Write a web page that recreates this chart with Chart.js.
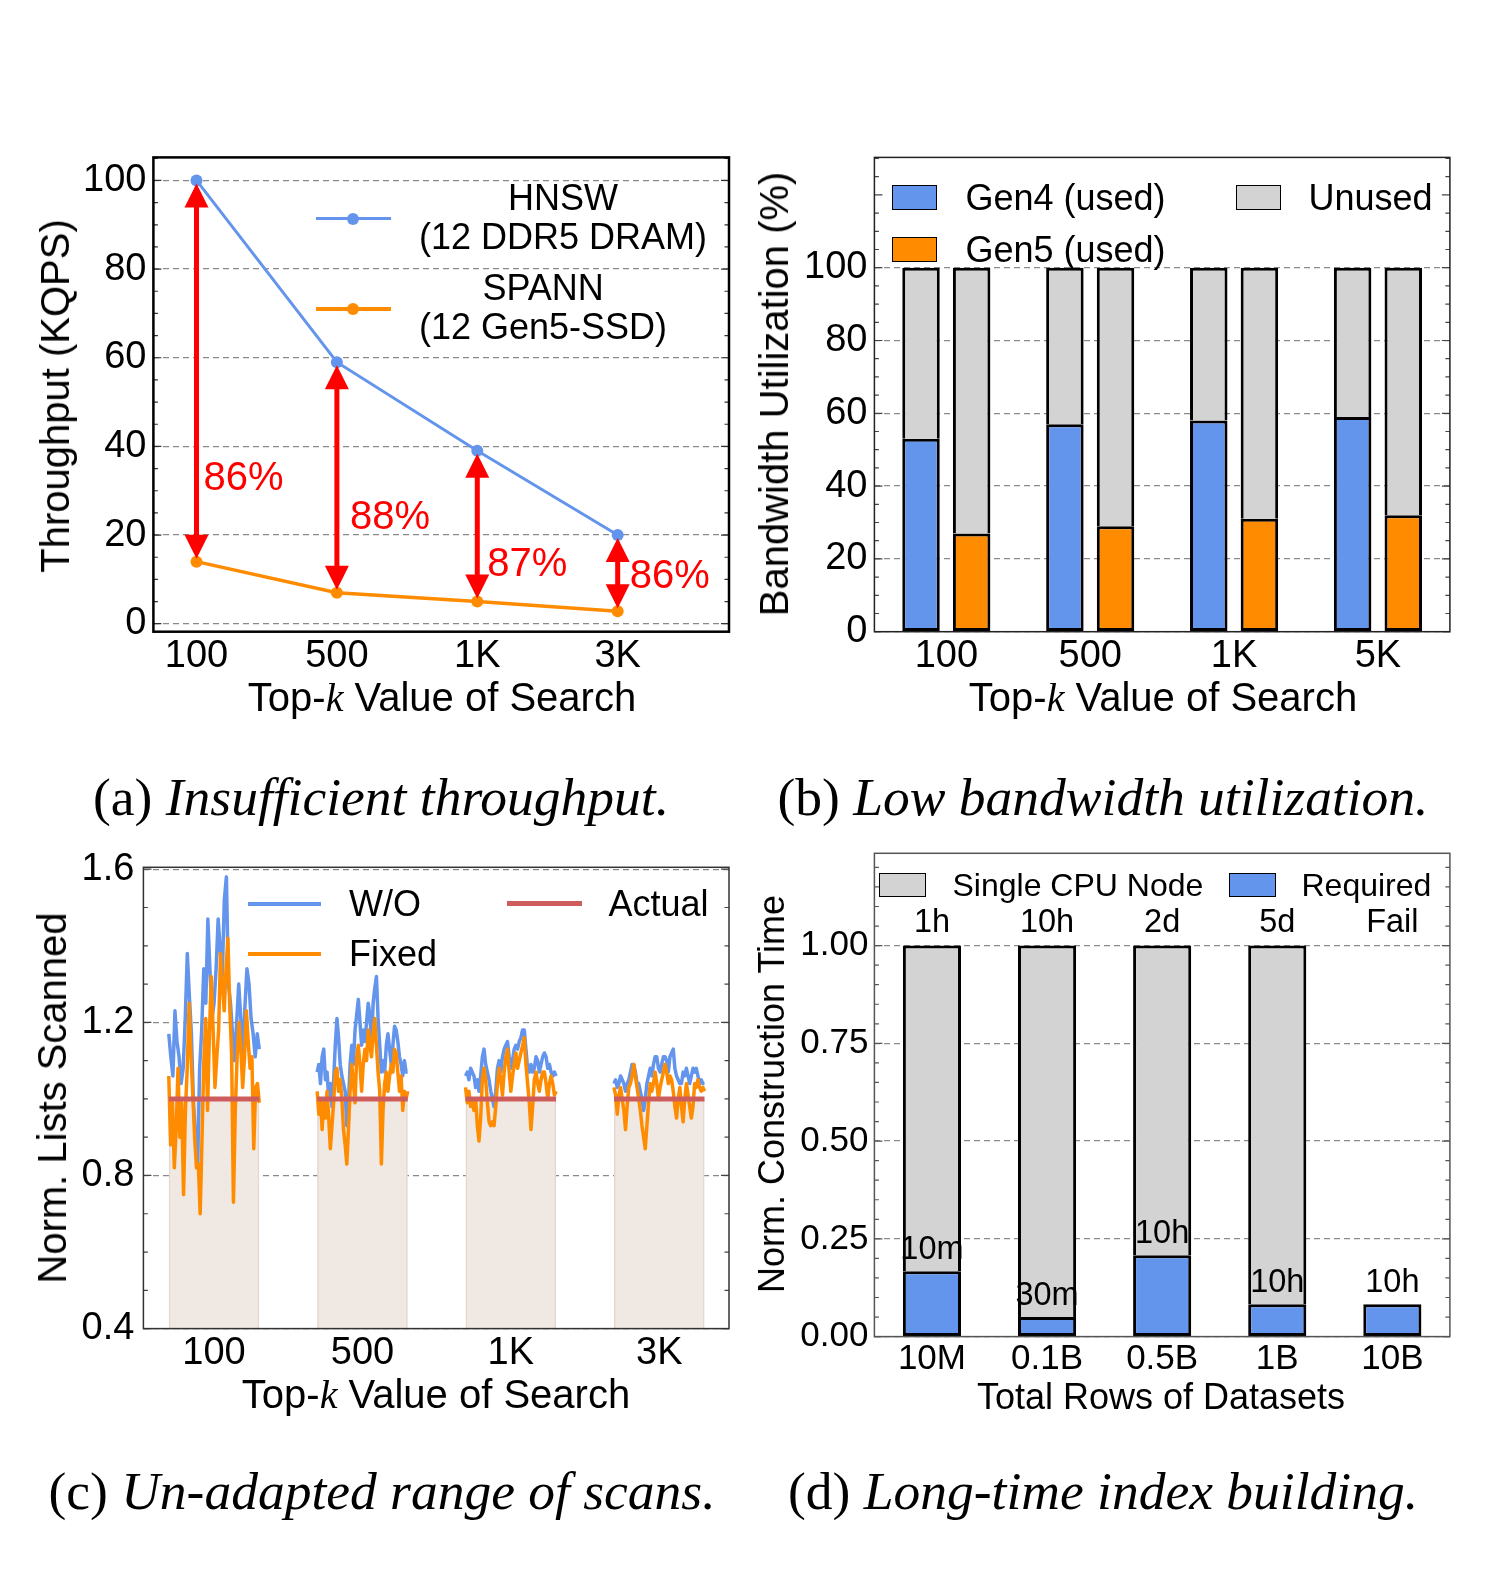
<!DOCTYPE html>
<html><head><meta charset="utf-8">
<script src="https://cdn.jsdelivr.net/npm/chart.js@4.4.1/dist/chart.umd.min.js"></script>
<style>
body{margin:0;background:#fff;width:1488px;height:1572px;position:relative;overflow:hidden;font-family:'Liberation Sans',Arial,sans-serif;color:#000;}
canvas{position:absolute;}
.t{position:absolute;white-space:nowrap;line-height:1;}
.c{transform:translate(-50%,-50%);}
.l{transform:translate(0,-50%);}
.r{transform:translate(-50%,-50%) rotate(-90deg);}
.mk{font-family:'Liberation Serif',serif;font-style:italic;}
.cap{font-family:'Liberation Serif','Times New Roman',serif;font-size:53.5px;}
.cap i{font-style:italic;}
.box{position:absolute;box-sizing:border-box;border:1.5px solid #000;}
.ln{position:absolute;}
</style></head><body>

<canvas id="ca" width="720" height="560" style="left:40px;top:140px"></canvas>
<canvas id="cb" width="720" height="560" style="left:760px;top:140px"></canvas>
<canvas id="cc" width="720" height="560" style="left:40px;top:850px"></canvas>
<canvas id="cd" width="720" height="560" style="left:760px;top:840px"></canvas>

<!-- (a) texts -->
<div class="t r" style="left:55px;top:396px;font-size:40px">Throughput (KQPS)</div>
<div class="t c" style="left:442px;top:697px;font-size:40px">Top-<span class="mk">k</span> Value of Search</div>
<div class="ln" style="left:316px;top:217px;width:75px;height:3px;background:#6495ED"></div>
<div class="ln" style="left:347px;top:212.5px;width:12px;height:12px;border-radius:50%;background:#6495ED"></div>
<div class="t" style="left:419px;top:177.5px;font-size:36px;line-height:39px;text-align:center">HNSW<br>(12 DDR5 DRAM)</div>
<div class="ln" style="left:316px;top:307px;width:75px;height:3.5px;background:#FF8C00"></div>
<div class="ln" style="left:347px;top:302.8px;width:12px;height:12px;border-radius:50%;background:#FF8C00"></div>
<div class="t" style="left:419px;top:267.5px;font-size:36px;line-height:39px;text-align:center">SPANN<br>(12 Gen5-SSD)</div>
<div class="t c cap" style="left:381px;top:798px">(a) <i>Insufficient throughput.</i></div>

<!-- (b) texts -->
<div class="t r" style="left:774px;top:394px;font-size:40px">Bandwidth Utilization (%)</div>
<div class="t c" style="left:1163px;top:697px;font-size:40px">Top-<span class="mk">k</span> Value of Search</div>
<div class="box" style="left:892px;top:184.5px;width:45px;height:25px;background:#6495ED"></div>
<div class="t l" style="left:965.5px;top:197.5px;font-size:36px">Gen4 (used)</div>
<div class="box" style="left:1236px;top:184.5px;width:45px;height:25px;background:#D3D3D3"></div>
<div class="t l" style="left:1308.5px;top:197.5px;font-size:36px">Unused</div>
<div class="box" style="left:892px;top:236.5px;width:45px;height:25px;background:#FF8C00"></div>
<div class="t l" style="left:965.5px;top:249.5px;font-size:36px">Gen5 (used)</div>
<div class="t c cap" style="left:1103px;top:798px">(b) <i>Low bandwidth utilization.</i></div>

<!-- (c) texts -->
<div class="t r" style="left:52px;top:1098px;font-size:40px">Norm. Lists Scanned</div>
<div class="t c" style="left:436px;top:1394px;font-size:40px">Top-<span class="mk">k</span> Value of Search</div>
<div class="ln" style="left:248px;top:901.5px;width:73px;height:4px;background:#6495ED"></div>
<div class="t l" style="left:349px;top:903.5px;font-size:36px">W/O</div>
<div class="ln" style="left:248px;top:951.5px;width:73px;height:4px;background:#FF8C00"></div>
<div class="t l" style="left:349px;top:953.5px;font-size:36px">Fixed</div>
<div class="ln" style="left:506.5px;top:901px;width:75px;height:5px;background:#CD5C5C"></div>
<div class="t l" style="left:608.5px;top:903.5px;font-size:36px">Actual</div>
<div class="t c cap" style="left:382px;top:1492px">(c) <i>Un-adapted range of scans.</i></div>

<!-- (d) texts -->
<div class="t r" style="left:772px;top:1094px;font-size:36px">Norm. Construction Time</div>
<div class="t c" style="left:1161px;top:1397px;font-size:36px">Total Rows of Datasets</div>
<div class="box" style="left:878.5px;top:873px;width:47px;height:24px;background:#D3D3D3"></div>
<div class="t l" style="left:952.5px;top:885px;font-size:32px">Single CPU Node</div>
<div class="box" style="left:1228.5px;top:873px;width:47px;height:24px;background:#6495ED"></div>
<div class="t l" style="left:1301.5px;top:885px;font-size:32px">Required</div>
<div class="t c cap" style="left:1103px;top:1492px">(d) <i>Long-time index building.</i></div>

<script>
// ---------------- data ----------------
// (a) throughput
const topKA = ['100', '500', '1K', '3K'];
const hnswKqps = [100, 59, 39, 20];
const spannKqps = [14, 7, 5, 2.8];
const gapLabels = ['86%', '88%', '87%', '86%'];
const yTicksA = [0, 20, 40, 60, 80, 100];
const yLabelsA = ['0', '20', '40', '60', '80', '100'];

// (b) bandwidth utilization
const topKB = ['100', '500', '1K', '5K'];
const gen4Used = [53, 57, 58, 59];
const gen5Used = [27, 29, 31, 32];
const yTicksB = [0, 20, 40, 60, 80, 100];
const yLabelsB = ['0', '20', '40', '60', '80', '100'];

// (c) norm. lists scanned
const topKC = ['100', '500', '1K', '3K'];
const actualScan = [1.0, 1.0, 1.0, 1.0];
const woScan100 = [1.17,1.11,1.06,1.23,1.15,1.11,1.04,1.08,1.21,1.38,1.27,1.17,0.99,0.90,0.82,1.08,1.18,1.34,1.25,1.47,1.34,1.21,1.25,1.34,1.47,1.39,1.32,1.52,1.58,1.30,1.25,1.17,1.10,1.20,1.30,1.21,1.11,1.24,1.34,1.30,1.21,1.17,1.11,1.17,1.13];
const fixedScan100 = [1.06,0.88,0.99,0.82,0.92,1.08,0.90,0.99,0.75,0.97,1.08,1.25,1.12,1.01,0.90,0.82,0.83,0.70,0.90,1.10,1.21,0.97,1.17,1.32,1.18,1.03,1.11,1.18,1.38,1.30,1.23,1.34,1.42,1.24,1.12,0.73,0.97,1.11,1.20,1.13,1.03,1.11,1.23,1.15,1.08,1.11,0.87,1.03,1.04,0.99];
const woScan500 = [1.07,1.09,1.04,1.11,1.13,1.05,1.07,1.00,1.04,0.98,1.05,1.14,1.21,1.16,1.09,1.06,1.04,1.02,0.93,0.99,1.09,1.14,1.09,1.18,1.22,1.26,1.20,1.14,1.18,1.15,1.20,1.25,1.22,1.15,1.25,1.29,1.32,1.21,1.14,1.07,1.10,1.07,1.14,1.17,1.13,1.09,1.14,1.19,1.18,1.15,1.11,1.09,1.06,1.10,1.07,1.07];
const fixedScan500 = [1.02,0.96,1.00,0.92,0.99,0.95,1.02,0.95,0.87,0.93,0.99,1.07,1.08,1.02,1.05,1.00,0.92,0.88,0.83,0.92,1.02,1.09,1.04,0.99,1.11,1.14,1.09,1.02,1.09,1.13,1.10,1.18,1.14,1.11,1.17,1.21,1.14,1.07,1.02,0.83,0.97,1.04,1.07,1.02,1.06,1.09,1.07,1.13,1.12,1.07,1.02,1.06,0.97,1.02,1.00,1.02];
const woScan1k = [1.06,1.07,1.05,1.08,1.07,1.06,1.03,1.05,1.02,1.06,1.11,1.13,1.09,1.07,1.05,1.02,1.00,0.98,1.02,1.08,1.10,1.07,1.11,1.13,1.14,1.15,1.11,1.08,1.10,1.13,1.14,1.13,1.15,1.16,1.18,1.18,1.13,1.08,1.07,1.09,1.07,1.08,1.11,1.10,1.07,1.09,1.11,1.12,1.11,1.08,1.09,1.07,1.06,1.07,1.06];
const fixedScan1k = [1.03,0.99,1.02,0.98,1.00,0.97,1.00,0.93,0.89,0.95,1.05,1.08,1.05,0.99,0.94,0.93,0.94,0.93,0.98,1.04,1.08,1.05,1.01,1.07,1.11,1.13,1.07,1.02,1.06,1.09,1.12,1.08,1.10,1.12,1.14,1.16,1.09,1.04,0.99,0.92,0.98,1.05,1.07,1.04,1.02,1.05,1.07,1.07,1.04,1.00,1.04,1.06,1.04,1.01,1.02];
const woScan3k = [1.04,1.05,1.03,1.04,1.06,1.05,1.04,1.02,1.04,1.05,1.07,1.09,1.09,1.07,1.04,1.04,1.02,1.00,0.97,1.00,1.04,1.06,1.08,1.06,1.09,1.11,1.11,1.08,1.07,1.09,1.11,1.11,1.10,1.07,1.11,1.12,1.13,1.08,1.06,1.05,1.04,1.04,1.07,1.06,1.08,1.06,1.04,1.06,1.08,1.07,1.08,1.06,1.04,1.05,1.04,1.04];
const fixedScan3k = [1.03,1.01,0.96,1.01,1.03,1.00,0.97,0.92,0.98,1.03,1.04,1.06,1.09,1.06,1.03,1.00,0.97,0.93,0.90,0.87,0.93,0.99,1.04,1.02,1.04,1.07,1.04,1.00,1.03,1.05,1.07,1.09,1.07,1.04,1.06,1.05,1.02,0.98,0.95,1.00,1.03,0.98,0.94,1.00,1.04,1.01,0.98,0.95,0.98,1.04,1.03,1.05,1.03,1.02,1.03,1.02];
const yTicksC = [0.4, 0.8, 1.2, 1.6];
const yLabelsC = ['0.4', '0.8', '1.2', '1.6'];

// (d) construction time
const rowsD = ['10M', '0.1B', '0.5B', '1B', '10B'];
const singleCpuNorm = [1, 1, 1, 1, null];
const requiredNorm = [0.167, 0.05, 0.208, 0.083, 0.083];
const cpuTimeLabels = ['1h', '10h', '2d', '5d', 'Fail'];
const reqTimeLabels = ['10m', '30m', '10h', '10h', '10h'];
const yTicksD = [0, 0.25, 0.5, 0.75, 1.0];
const yLabelsD = ['0.00', '0.25', '0.50', '0.75', '1.00'];

// ---------------- styles ----------------
const BLUE = '#6495ED', ORANGE = '#FF8C00', GRAY = '#D3D3D3', RED = '#CD5C5C', ARROW = '#FF0000';
const BEIGE = '#f0e8e2', BEIGE_EDGE = '#e4d7ce';
Chart.defaults.font.family = "'Liberation Sans', Arial, sans-serif";
Chart.defaults.color = '#000';
Chart.defaults.animation = false;

function zeroPad(s) { s.paddingTop = 0; s.paddingBottom = 0; s.paddingLeft = 0; s.paddingRight = 0; }

function yAxis(min, max, vals, labels, size, pad, width, extra) {
  return Object.assign({
    min, max,
    afterBuildTicks: s => { s.ticks = vals.map(v => ({ value: v })); },
    ticks: { callback: (v, i) => labels[i], font: { size }, padding: pad, color: '#000', autoSkip: false },
    grid: { color: '#8a8a8a', lineWidth: 1.3, drawTicks: false },
    border: { display: false, dash: [6, 4] },
    afterFit: s => { s.width = width; zeroPad(s); }
  }, extra || {});
}

function xLinear(min, max, labels, size, pad, height) {
  return {
    type: 'linear', min, max, offset: false,
    afterBuildTicks: s => { s.ticks = labels.map((_, i) => ({ value: i })); },
    ticks: { callback: (v) => labels[v], font: { size }, padding: pad, maxRotation: 0, autoSkip: false, color: '#000' },
    grid: { display: false, drawTicks: false, offset: false },
    border: { display: false },
    afterFit: s => { s.height = height; zeroPad(s); }
  };
}

function xCat(size, pad, height) {
  return {
    type: 'category', stacked: true,
    ticks: { font: { size }, padding: pad, maxRotation: 0, autoSkip: false, color: '#000' },
    grid: { display: false, drawTicks: false },
    border: { display: false },
    afterFit: s => { s.height = height; zeroPad(s); }
  };
}

// frame with inward ticks (left/right)
const framePlugin = {
  id: 'frame',
  afterDraw(chart, args, o) {
    const { ctx, chartArea: a } = chart;
    const y = chart.scales.y;
    ctx.save();
    ctx.strokeStyle = o.tickColor; ctx.lineWidth = 1.2;
    const n = Math.round((o.to - o.from) / o.minor);
    for (let k = 0; k <= n; k++) {
      const p = y.getPixelForValue(o.from + k * o.minor);
      if (p < a.top - 0.5 || p > a.bottom + 0.5) continue;
      const len = (k % o.every === 0) ? 8 : 4.5;
      ctx.beginPath();
      ctx.moveTo(a.left, p); ctx.lineTo(a.left + len, p);
      ctx.moveTo(a.right, p); ctx.lineTo(a.right - len, p);
      ctx.stroke();
    }
    ctx.strokeStyle = o.color; ctx.lineWidth = o.width;
    ctx.strokeRect(a.left, a.top, a.right - a.left, a.bottom - a.top);
    ctx.restore();
  }
};

// (a) double arrows with gap labels
const gapArrows = {
  id: 'gapArrows',
  afterDatasetsDraw(chart, args, o) {
    const { ctx, scales: { x, y } } = chart;
    const top = chart.data.datasets[0].data, bot = chart.data.datasets[1].data;
    ctx.save();
    ctx.fillStyle = ARROW; ctx.strokeStyle = ARROW;
    top.forEach((pt, i) => {
      const px = x.getPixelForValue(pt.x);
      const y1 = y.getPixelForValue(pt.y) + o.inset;
      const y2 = y.getPixelForValue(bot[i].y) - o.inset;
      ctx.lineWidth = o.shaft;
      ctx.beginPath(); ctx.moveTo(px, y1 + o.head - 2); ctx.lineTo(px, y2 - o.head + 2); ctx.stroke();
      ctx.beginPath(); ctx.moveTo(px, y1); ctx.lineTo(px - o.half, y1 + o.head); ctx.lineTo(px + o.half, y1 + o.head); ctx.closePath(); ctx.fill();
      ctx.beginPath(); ctx.moveTo(px, y2); ctx.lineTo(px - o.half, y2 - o.head); ctx.lineTo(px + o.half, y2 - o.head); ctx.closePath(); ctx.fill();
      ctx.font = o.font; ctx.textAlign = 'left'; ctx.textBaseline = 'middle';
      ctx.fillText(gapLabels[i], px + o.dx[i], y.getPixelForValue(o.labelAt[i]));
    });
    ctx.restore();
  }
};

// (d) time labels
const timeLabels = {
  id: 'timeLabels',
  afterDatasetsDraw(chart, args, o) {
    const { ctx, scales: { x, y } } = chart;
    ctx.save();
    ctx.font = o.font; ctx.fillStyle = '#000'; ctx.textAlign = 'center'; ctx.textBaseline = 'alphabetic';
    cpuTimeLabels.forEach((t, i) => ctx.fillText(t, x.getPixelForValue(i), y.getPixelForValue(1) - o.gapTop));
    reqTimeLabels.forEach((t, i) => ctx.fillText(t, x.getPixelForValue(i), y.getPixelForValue(requiredNorm[i]) - o.gapReq));
    ctx.restore();
  }
};

// ---------------- chart (a) ----------------
new Chart(document.getElementById('ca'), {
  type: 'line',
  data: {
    datasets: [
      { label: 'HNSW (12 DDR5 DRAM)', data: hnswKqps.map((v, i) => ({ x: i, y: v })), borderColor: BLUE, backgroundColor: BLUE, borderWidth: 3, pointRadius: 6, pointBorderWidth: 0, tension: 0 },
      { label: 'SPANN (12 Gen5-SSD)', data: spannKqps.map((v, i) => ({ x: i, y: v })), borderColor: ORANGE, backgroundColor: ORANGE, borderWidth: 3.5, pointRadius: 6, pointBorderWidth: 0, tension: 0 }
    ]
  },
  options: {
    responsive: false,
    layout: { padding: { top: 17.4, right: 31, left: 0, bottom: 0 } },
    plugins: {
      legend: { display: false }, tooltip: { enabled: false },
      frame: { from: 0, to: 105, minor: 5, every: 4, color: '#000', width: 2.5, tickColor: '#333' },
      gapArrows: { inset: 3, head: 24, half: 12, shaft: 5, font: "40px 'Liberation Sans', Arial, sans-serif", dx: [7, 13, 10, 12], labelAt: [32.6, 23.8, 13.3, 10.6] }
    },
    scales: {
      x: xLinear(-0.307, 3.793, topKA, 38, 2, 68.3),
      y: yAxis(-1.8, 105.2, yTicksA, yLabelsA, 38, 7, 113.4)
    }
  },
  plugins: [framePlugin, gapArrows]
});

// ---------------- chart (b) ----------------
const barCommon = { borderColor: '#000', borderWidth: 3, categoryPercentage: 0.704, barPercentage: 0.74 };
new Chart(document.getElementById('cb'), {
  type: 'bar',
  data: {
    labels: topKB,
    datasets: [
      Object.assign({ label: 'Gen4 (used)', data: gen4Used, backgroundColor: BLUE, stack: 'gen4', borderSkipped: false }, barCommon),
      Object.assign({ label: 'Gen5 (used)', data: gen5Used, backgroundColor: ORANGE, stack: 'gen5', borderSkipped: false }, barCommon),
      Object.assign({ label: 'Unused', data: gen4Used.map(v => 100 - v), backgroundColor: GRAY, stack: 'gen4', borderSkipped: 'bottom' }, barCommon),
      Object.assign({ label: 'Unused ', data: gen5Used.map(v => 100 - v), backgroundColor: GRAY, stack: 'gen5', borderSkipped: 'bottom' }, barCommon)
    ]
  },
  options: {
    responsive: false,
    layout: { padding: { top: 17.4, right: 30.1, left: 0, bottom: 0 } },
    plugins: {
      legend: { display: false }, tooltip: { enabled: false },
      frame: { from: 0, to: 130, minor: 5, every: 4, color: '#222', width: 1.5, tickColor: '#444' }
    },
    scales: {
      x: xCat(38, 2, 68.3),
      y: yAxis(0, 130.3, yTicksB, yLabelsB, 38, 7, 114.4, { stacked: true })
    }
  },
  plugins: [framePlugin]
});

// ---------------- chart (c) ----------------
const HALF = 0.305;
function spread(groups) {
  const out = [];
  groups.forEach((arr, g) => {
    arr.forEach((v, k) => out.push({ x: g - HALF + 2 * HALF * k / (arr.length - 1), y: v }));
    out.push({ x: g + 0.5, y: null });
  });
  return out;
}
const actualPts = [];
actualScan.forEach((v, g) => { actualPts.push({ x: g - HALF, y: v }, { x: g + HALF, y: v }, { x: g + 0.5, y: null }); });

new Chart(document.getElementById('cc'), {
  type: 'line',
  data: {
    datasets: [
      { type: 'line', label: 'Actual', data: actualPts, borderColor: RED, borderWidth: 5, pointRadius: 0, order: 1, spanGaps: false },
      { type: 'line', label: 'Fixed', data: spread([fixedScan100, fixedScan500, fixedScan1k, fixedScan3k]), borderColor: ORANGE, borderWidth: 3.5, pointRadius: 0, order: 2, spanGaps: false, borderJoinStyle: 'round' },
      { type: 'line', label: 'W/O', data: spread([woScan100, woScan500, woScan1k, woScan3k]), borderColor: BLUE, borderWidth: 3.5, pointRadius: 0, order: 3, spanGaps: false, borderJoinStyle: 'round' },
      { type: 'bar', label: 'range', data: actualScan.map((v, i) => ({ x: i, y: v })), backgroundColor: BEIGE, borderColor: BEIGE_EDGE, borderWidth: 1.5, borderSkipped: false, barThickness: 90, order: 4 }
    ]
  },
  options: {
    responsive: false,
    layout: { padding: { top: 17.3, right: 31, left: 0, bottom: 0 } },
    plugins: {
      legend: { display: false }, tooltip: { enabled: false },
      frame: { from: 0.4, to: 1.6, minor: 0.1, every: 4, color: '#333', width: 1.5, tickColor: '#444' }
    },
    scales: {
      x: xLinear(-0.476, 3.470, topKC, 38, 2, 81.4),
      y: yAxis(0.4, 1.605, yTicksC, yLabelsC, 38, 9, 103.4)
    }
  },
  plugins: [framePlugin]
});

// ---------------- chart (d) ----------------
const barD = { borderColor: '#000', borderWidth: 3, categoryPercentage: 1.0, barPercentage: 0.505 };
new Chart(document.getElementById('cd'), {
  type: 'bar',
  data: {
    labels: rowsD,
    datasets: [
      Object.assign({ label: 'Required', data: requiredNorm, backgroundColor: BLUE, borderSkipped: false }, barD),
      Object.assign({ label: 'Single CPU Node', data: singleCpuNorm.map((v, i) => v == null ? null : v - requiredNorm[i]), backgroundColor: GRAY, borderSkipped: 'bottom' }, barD)
    ]
  },
  options: {
    responsive: false,
    layout: { padding: { top: 13.3, right: 30.1, left: 0, bottom: 0 } },
    plugins: {
      legend: { display: false }, tooltip: { enabled: false },
      frame: { from: 0, to: 1.25, minor: 0.05, every: 5, color: '#555', width: 1.5, tickColor: '#555' },
      timeLabels: { font: "32.5px 'Liberation Sans', Arial, sans-serif", gapTop: 14, gapReq: 12 }
    },
    scales: {
      x: xCat(35, 2, 63.4),
      y: yAxis(0, 1.236, yTicksD, yLabelsD, 35, 6, 114.4, { stacked: true })
    }
  },
  plugins: [framePlugin, timeLabels]
});
</script>
</body></html>
